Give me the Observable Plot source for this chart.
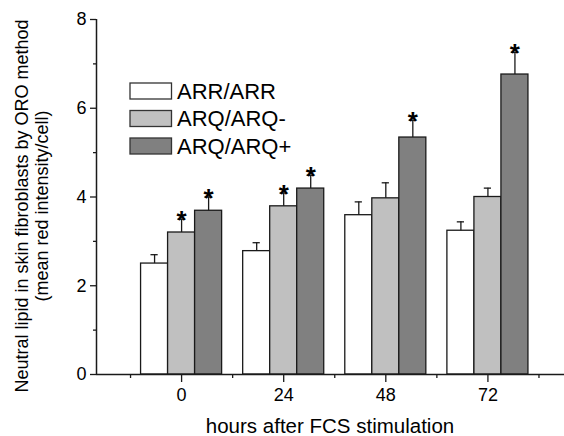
<!DOCTYPE html>
<html>
<head>
<meta charset="utf-8">
<script src="https://cdn.jsdelivr.net/npm/d3@7"></script>
<script src="https://cdn.jsdelivr.net/npm/@observablehq/plot@0.6"></script>
<style>
  html, body { margin: 0; padding: 0; background: #fff; }
  #chart { position: relative; width: 564px; height: 436px; }
  svg text { font-family: "Liberation Sans", Arial, sans-serif; }
</style>
</head>
<body>
<div id="chart"></div>
<script>
// ---- data ----
const hours = [0, 24, 48, 72];
const seriesNames = ["ARR/ARR", "ARQ/ARQ-", "ARQ/ARQ+"];
const meanARR  = [2.50, 2.78, 3.59, 3.24];
const meanARQm = [3.20, 3.79, 3.97, 4.00];
const meanARQp = [3.69, 4.19, 5.34, 6.76];
const sdARR  = [0.20, 0.19, 0.30, 0.20];
const sdARQm = [0.30, 0.30, 0.35, 0.20];
const sdARQp = [0.31, 0.30, 0.39, 0.50];
const sigARR  = [false, false, false, false];
const sigARQm = [true, true, false, false];
const sigARQp = [true, true, true, true];
const yTicks = [0, 2, 4, 6, 8];
const yMinor = [1, 3, 5, 7];
const xMinor = [-12, 12, 36, 60, 84];
const fills = ["#ffffff", "#c0c0c0", "#808080"];

const means = [meanARR, meanARQm, meanARQp];
const sds = [sdARR, sdARQm, sdARQp];
const sigs = [sigARR, sigARQm, sigARQp];

const barW = 6.35; // bar width in hours units
const rows = [];
seriesNames.forEach((s, si) => {
  hours.forEach((h, hi) => {
    const c = h + (si - 1) * barW;
    rows.push({series: s, hour: h, c, x1: c - barW / 2, x2: c + barW / 2,
      mean: means[si][hi], err: means[si][hi] + sds[si][hi], sig: sigs[si][hi]});
  });
});

const ink = "#1a1a1a";
const plot = Plot.plot({
  width: 564,
  height: 436,
  marginLeft: 96,
  marginRight: 0,
  marginTop: 19,
  marginBottom: 62,
  style: {fontFamily: "Liberation Sans, Arial, sans-serif", background: "#fff", color: "#000"},
  x: {domain: [-20, 90], label: null},
  y: {domain: [0, 8], label: null},
  color: {domain: seriesNames, range: fills},
  marks: [
    Plot.rect(rows, {x1: "x1", x2: "x2", y1: 0, y2: "mean", fill: "series", stroke: ink, strokeWidth: 1.3}),
    Plot.ruleX(rows, {x: "c", y1: "mean", y2: "err", stroke: ink, strokeWidth: 1.3}),
    Plot.ruleY(rows, {y: "err", x1: d => d.c - 0.85, x2: d => d.c + 0.85, stroke: ink, strokeWidth: 1.3}),
    Plot.text(rows.filter(d => d.sig), {x: "c", y: "err", text: () => "*", lineAnchor: "bottom", dy: 10, fontSize: 26, fontWeight: "bold", fill: "#000"}),
    Plot.ruleY([0], {stroke: ink, strokeWidth: 1.5}),
    Plot.ruleX([-20], {stroke: ink, strokeWidth: 1.5}),
    Plot.axisX({ticks: hours, tickSize: 8, tickPadding: 6, fontSize: 18, label: null, stroke: ink, strokeWidth: 1.3, tickFormat: d => String(d)}),
    Plot.axisX({ticks: xMinor, tickSize: 4, text: null, label: null, stroke: ink, strokeWidth: 1.3}),
    Plot.axisY({ticks: yTicks, tickSize: 6, tickPadding: 4, fontSize: 18, label: null, stroke: ink, strokeWidth: 1.3}),
    Plot.axisY({ticks: yMinor, tickSize: 3, text: null, label: null, stroke: ink, strokeWidth: 1.3})
  ]
});
document.getElementById("chart").appendChild(plot);

const svg = d3.select(plot);
const font = "Liberation Sans, Arial, sans-serif";
// axis titles
svg.append("text").attr("x", 330).attr("y", 433).attr("text-anchor", "middle")
  .attr("font-size", 20.5).attr("font-family", font).attr("fill", "#000")
  .text("hours after FCS stimulation");
const yt = svg.append("g").attr("transform", "translate(0,206) rotate(-90)");
yt.append("text").attr("x", 0).attr("y", 28).attr("text-anchor", "middle")
  .attr("font-size", 18).attr("font-family", font).attr("fill", "#000")
  .text("Neutral lipid in skin fibroblasts by ORO method");
yt.append("text").attr("x", 0).attr("y", 48).attr("text-anchor", "middle")
  .attr("font-size", 18).attr("font-family", font).attr("fill", "#000")
  .text("(mean red intensity/cell)");
// legend
const lg = svg.append("g").attr("transform", "translate(130,83)");
seriesNames.forEach((s, i) => {
  const g = lg.append("g").attr("transform", `translate(0,${i * 27.5})`);
  g.append("rect").attr("x", 0).attr("y", 0).attr("width", 41.5).attr("height", 16)
    .attr("fill", fills[i]).attr("stroke", "#333").attr("stroke-width", 1.3);
  g.append("text").attr("x", 47).attr("y", 15.5).attr("font-size", 22).attr("text-anchor", "start")
    .attr("font-family", font).attr("fill", "#000").text(s);
});
</script>
</body>
</html>
